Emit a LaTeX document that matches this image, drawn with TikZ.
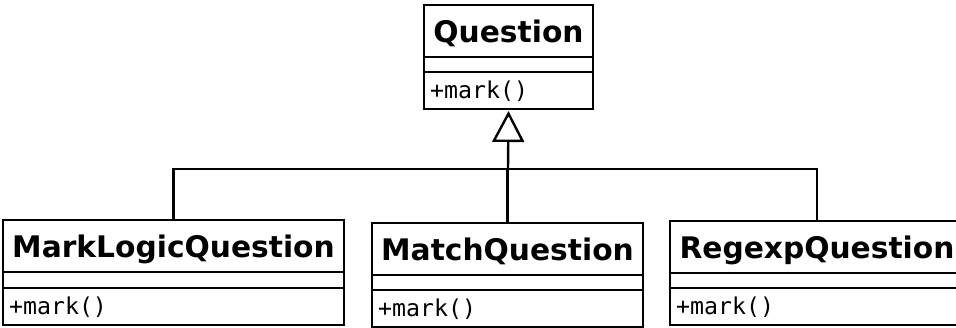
\documentclass[tikz,border=0pt]{standalone}
\usepackage{fontspec}
\setmainfont{DejaVu Sans}
\newfontfamily\monof{DejaVu Sans Mono}
\usetikzlibrary{arrows.meta}
\newcommand\UMLbox[6]{%
  \node[comp, anchor=north west, minimum width=#4, minimum height=52] (#1t) at (#2,#3) {};
  \node[titletxt, anchor=base] (#1n) at ([yshift=-37]#1t.north) {#5};
  \node[comp, anchor=north, minimum width=#4, minimum height=#6] (#1a) at (#1t.south) {};
  \node[comp, anchor=north, minimum width=#4, minimum height=37] (#1m) at (#1a.south) {};
  \node[methtxt, anchor=base west] (#1o) at ([xshift=6,yshift=11]#1m.south west) {+mark()};
}
\begin{document}
\begin{tikzpicture}[x=1pt,y=-1pt,
  comp/.style={draw=black, line width=2.4pt, rectangle, inner sep=0pt, outer sep=0pt, fill=white},
  titletxt/.style={inner sep=0pt, font=\fontsize{29.7}{34}\selectfont\bfseries},
  methtxt/.style={inner sep=0pt, font=\fontsize{23.2}{27}\selectfont\monof},
  gen/.style={line width=2.4pt},
  genarrow/.style={line width=2.4pt, -{Triangle[open, width=32pt, length=31pt]}}]
\useasboundingbox (0,0) rectangle (956,327);
\clip (0,0) rectangle (956,327);
\fill[white] (0,0) rectangle (956,327);
\UMLbox{q}{424}{5}{169}{Question}{15}
\UMLbox{ml}{3}{220}{341}{MarkLogicQuestion}{16}
\UMLbox{mt}{372}{223}{271}{MatchQuestion}{15}
\UMLbox{rx}{670}{221}{294}{RegexpQuestion}{15}
\coordinate (hub) at (508,169);
\draw[gen] (mlt.north) |- (hub) -| (rxt.north);
\draw[gen] (mtt.north) |- (hub);
\draw[genarrow] (hub) -- ([yshift=-2]qm.south);
\end{tikzpicture}
\end{document}
